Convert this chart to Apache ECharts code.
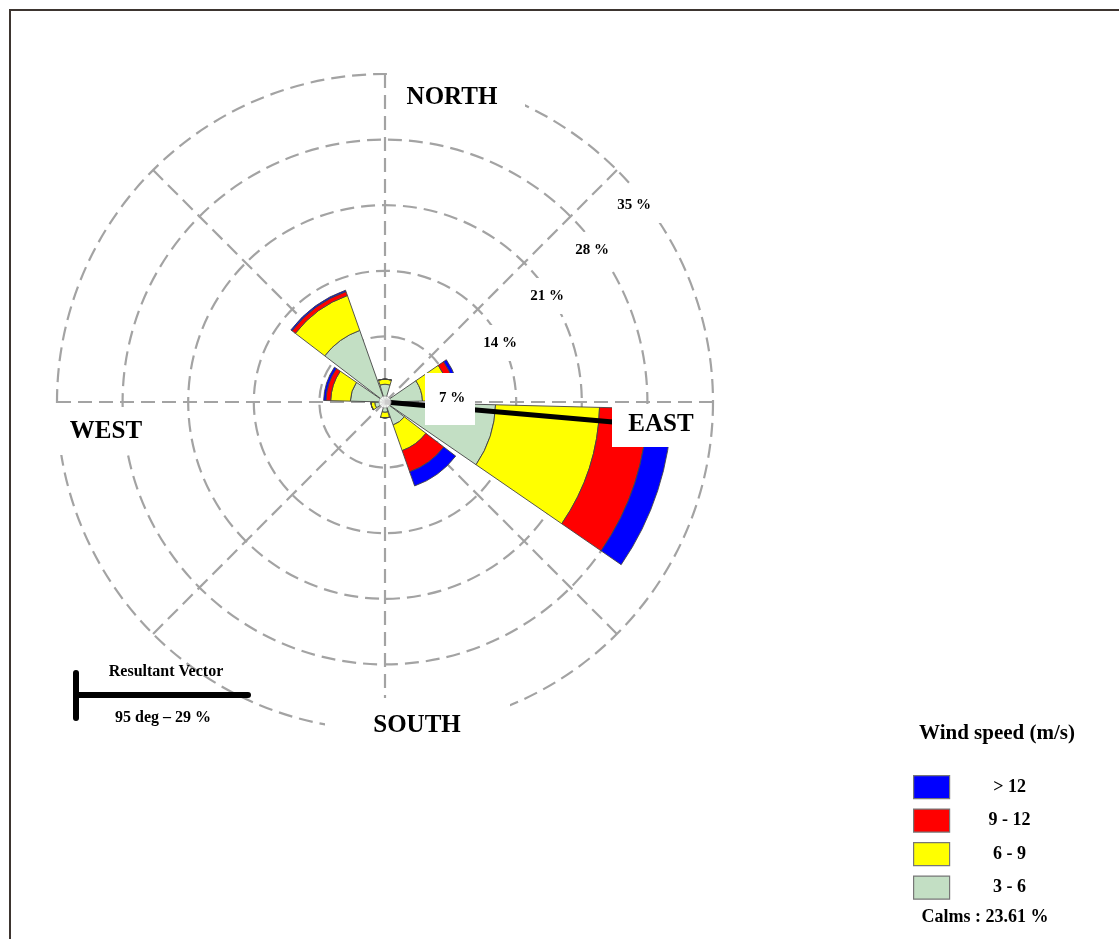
<!DOCTYPE html>
<html>
<head>
<meta charset="utf-8">
<script src="https://cdn.jsdelivr.net/npm/echarts@6/dist/echarts.min.js"></script>
<style>
  html, body { margin: 0; padding: 0; background: #ffffff; }
  #chart { width: 1119px; height: 939px; }
</style>
</head>
<body>
<div id="chart"></div>
<script>
// sectors, 36 deg each, clockwise from north
var directions = ['0°', '36°', '72°', '108°', '144°', '180°', '216°', '252°', '288°', '324°'];
// frequency (%) per speed class, stacked from the centre outwards
var speed3to6 = [1.9, 0.4, 4.0, 11.8, 2.6, 1.1, 0, 1.1, 3.7, 8.1];
var speed6to9 = [0.55, 0, 2.9, 11.1, 2.9, 0.6, 0, 0.4, 2.1, 3.95];
var speed9to12 = [0, 0, 0.7, 5.1, 2.4, 0, 0, 0, 0.5, 0.45];
var speedOver12 = [0, 0, 0.35, 2.6, 1.6, 0, 0, 0, 0.25, 0.15];
var ringTicks = ['7 %', '14 %', '21 %', '28 %', '35 %'];
var resultantDeg = 95;
var resultantPct = 29;
var calms = '23.61 %';

var FONT = 'Liberation Serif';
var CX = 385, CY = 402, R = 328;
var gridLine = { color: '#a3a3a3', width: 2.2, type: [14, 7] };
var petalBorder = { borderColor: '#444', borderWidth: 0.9 };

function labelBox(x, y, w, h) {
  return { type: 'rect', z: 100, shape: { x: x, y: y, width: w, height: h }, style: { fill: '#ffffff' } };
}
function label(text, x, y, size) {
  return {
    type: 'text', z: 101, x: x, y: y,
    style: { text: text, fill: '#000', font: 'bold ' + size + 'px "' + FONT + '"', align: 'center', verticalAlign: 'middle' }
  };
}

var chart = echarts.init(document.getElementById('chart'));

var option = {
  backgroundColor: '#ffffff',
  animation: false,
  polar: [
    { center: [CX, CY], radius: R },
    { center: [CX, CY], radius: R }
  ],
  angleAxis: [
    {
      polarIndex: 0, type: 'value', min: 0, max: 360, interval: 45,
      startAngle: 90, clockwise: true,
      axisLine: { show: false }, axisTick: { show: false }, axisLabel: { show: false },
      splitLine: { show: true, lineStyle: gridLine }
    },
    {
      polarIndex: 1, type: 'category', data: directions,
      startAngle: 108, clockwise: true, show: false
    }
  ],
  radiusAxis: [
    {
      polarIndex: 0, type: 'value', min: 0, max: 35, interval: 7,
      axisLine: { show: false }, axisTick: { show: false }, axisLabel: { show: false },
      splitLine: { show: true, lineStyle: gridLine }
    },
    { polarIndex: 1, type: 'value', min: 0, max: 35, show: false }
  ],
  legend: {
    orient: 'vertical', left: 913, top: 775, padding: 0,
    itemWidth: 36, itemHeight: 23, itemGap: 9.3, icon: 'rect',
    selectedMode: false,
    data: ['> 12', '9 - 12', '6 - 9', '3 - 6'],
    formatter: function (name) { return '{a|' + name + '}'; },
    itemStyle: { borderColor: '#777', borderWidth: 1.2 },
    textStyle: {
      rich: { a: { width: 110, align: 'center', fontFamily: FONT, fontWeight: 'bold', fontSize: 18, color: '#000' } }
    }
  },
  series: [
    {
      name: '3 - 6', type: 'bar', coordinateSystem: 'polar', polarIndex: 1, stack: 'wind',
      barWidth: '92%', data: speed3to6, itemStyle: Object.assign({ color: '#c3dfc4' }, petalBorder)
    },
    {
      name: '6 - 9', type: 'bar', coordinateSystem: 'polar', polarIndex: 1, stack: 'wind',
      barWidth: '92%', data: speed6to9, itemStyle: Object.assign({ color: '#ffff00' }, petalBorder)
    },
    {
      name: '9 - 12', type: 'bar', coordinateSystem: 'polar', polarIndex: 1, stack: 'wind',
      barWidth: '92%', data: speed9to12, itemStyle: Object.assign({ color: '#ff0000' }, petalBorder)
    },
    {
      name: '> 12', type: 'bar', coordinateSystem: 'polar', polarIndex: 1, stack: 'wind',
      barWidth: '92%', data: speedOver12, itemStyle: Object.assign({ color: '#0000ff' }, petalBorder)
    },
    {
      // resultant vector
      type: 'line', coordinateSystem: 'polar', polarIndex: 0, z: 5,
      symbol: 'none', silent: true,
      lineStyle: { color: '#000', width: 5 },
      data: [[0, resultantDeg], [resultantPct, resultantDeg]]
    },
    {
      // calm circle
      type: 'scatter', coordinateSystem: 'polar', polarIndex: 0, z: 6,
      symbol: 'circle', symbolSize: 12, silent: true,
      itemStyle: { color: '#ffffff', borderColor: '#9a9a9a', borderWidth: 1 },
      data: [[0, 0]]
    }
  ],
  graphic: [
    { type: 'rect', z: 120, shape: { x: 10, y: 10, width: 1200, height: 1000 }, style: { fill: null, stroke: '#3d3530', lineWidth: 2 } },

    labelBox(393, 60, 132, 66), label('NORTH', 452, 98, 25),
    labelBox(325, 698, 185, 50), label('SOUTH', 417, 726, 25),
    labelBox(612, 404, 86, 43), label('EAST', 661, 425, 25),
    labelBox(52, 410, 103, 45), label('WEST', 106, 432, 25),

    labelBox(425, 373, 50, 52), label(ringTicks[0], 452, 398, 15),
    labelBox(474, 325, 52, 36), label(ringTicks[1], 500, 343, 15),
    labelBox(521, 278, 52, 36), label(ringTicks[2], 547, 296, 15),
    labelBox(566, 232, 52, 36), label(ringTicks[3], 592, 250, 15),
    labelBox(609, 187, 52, 36), label(ringTicks[4], 634, 205, 15),

    // resultant vector key
    { type: 'line', z: 101, shape: { x1: 76, y1: 673, x2: 76, y2: 718 }, style: { stroke: '#000', lineWidth: 6, lineCap: 'round' } },
    { type: 'line', z: 101, shape: { x1: 76, y1: 695, x2: 248, y2: 695 }, style: { stroke: '#000', lineWidth: 6, lineCap: 'round' } },
    label('Resultant Vector', 166, 672, 16),
    label('95 deg \u2013 29 %', 163, 718, 16),

    label('Wind speed (m/s)', 997, 734, 21),
    label('Calms : ' + calms, 985, 917, 18)
  ]
};

chart.setOption(option);
</script>
</body>
</html>
